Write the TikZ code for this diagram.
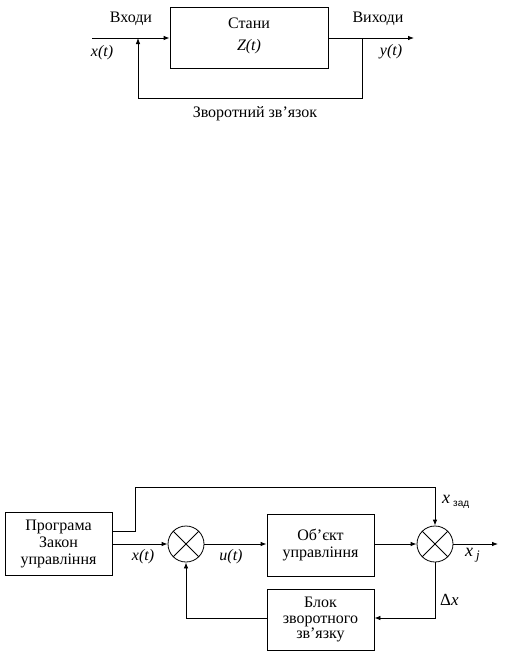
\documentclass[tikz,border=0pt]{standalone}
\usepackage{fontspec}
\setmainfont{Liberation Serif}
\newfontfamily\subsans{Liberation Sans}
\usetikzlibrary{arrows.meta}
\begin{document}
\begin{tikzpicture}[x=1pt,y=-1pt,
  every node/.style={font=\fontsize{16}{17}\selectfont},
  box/.style={draw,line width=0.8pt,inner sep=0pt},
  summer/.style={draw,circle,line width=0.8pt,minimum size=36pt,inner sep=0pt},
  ln/.style={line width=0.8pt},
  arr/.style={line width=0.8pt,-{Latex[length=6pt,width=4.5pt]}},
  lbl/.style={inner sep=0pt,align=center}]
\useasboundingbox (0,0) rectangle (507,656);
% ---------- top diagram ----------
\node[box,minimum width=158pt,minimum height=61pt] (st) at (249,38) {};
\node[lbl] (stt) at (249,23) {Стани};
\node[lbl] (stz) at (249,47) {\textit{Z(t)}};
\coordinate (tin) at (92,38);
\coordinate (tout) at (414,38);
\coordinate (tfb1) at (362,38);
\coordinate (tfb2) at (138,38);
\draw[arr] (tin) -- (st.west);
\draw[arr] (st.east) -- (tout);
\draw[arr] (tfb1) -- (362,98) -| (tfb2);
\node[lbl] (vh) at (131,19) {Входи};
\node[lbl] (vyh) at (378,19) {Виходи};
\node[lbl] (xt) at (102,53) {\textit{x(t)}};
\node[lbl] (yt) at (391,52) {\textit{y(t)}};
\node[lbl] (zz) at (255,114) {Зворотний зв'язок};
% ---------- bottom diagram ----------
\node[box,minimum width=107pt,minimum height=63pt,align=center] (prog) at (58.5,544)
  {Програма\\Закон\\управління};
\node[summer] (c1) at (186,544) {};
\draw[ln] (c1.north east) -- (c1.south west);
\draw[ln] (c1.north west) -- (c1.south east);
\node[box,minimum width=107pt,minimum height=62pt,align=center] (obj) at (320.5,545)
  {Об'єкт\\управління};
\node[box,minimum width=107pt,minimum height=61pt,align=center] (blk) at (320.5,619.5)
  {Блок\\[-1.5pt]зворотного\\[-1.5pt]зв'язку};
\node[summer] (c2) at (435,544) {};
\draw[ln] (c2.north east) -- (c2.south west);
\draw[ln] (c2.north west) -- (c2.south east);
\coordinate (bout) at (498,544);
\draw[ln] ([yshift=13pt]prog.east) -- (135,531) -- (135,487) -- (435,487);
\draw[arr] (435,487) -- (c2.north);
\draw[arr] (prog.east) -- (c1.west);
\draw[arr] (c1.east) -- (obj.west |- c1.east);
\draw[arr] (obj.east |- c2.west) -- (c2.west);
\draw[arr] (c2.east) -- (bout);
\draw[arr] (c2.south) |- (blk.east |- 0,618);
\draw[arr] (blk.west |- 0,618) -| (c1.south);
\node[lbl] (lx) at (143,557) {\textit{x(t)}};
\node[lbl] (lu) at (231,557) {\textit{u(t)}};
\node[lbl,anchor=west] (lxz) at (442,502)
  {\fontsize{18}{19}\selectfont\textit{x}\,\raisebox{-2.5pt}{\subsans\fontsize{10}{11}\selectfont зад}};
\node[lbl,anchor=west] (lxj) at (465,555)
  {\fontsize{18}{19}\selectfont\textit{x}\,\raisebox{-3pt}{\fontsize{13}{14}\selectfont\textit{j}}};
\node[lbl,anchor=west] (ldx) at (440,600) {\fontsize{17}{18}\selectfont Δ\textit{x}};
\end{tikzpicture}
\end{document}
